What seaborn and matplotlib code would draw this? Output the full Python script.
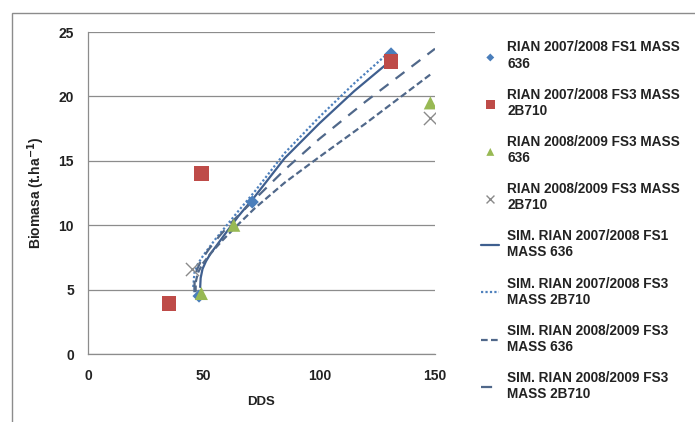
import numpy as np
import pandas as pd
import seaborn as sns
import matplotlib.pyplot as plt
from matplotlib.patches import Rectangle

# Observed data (DDS, biomass)
obs1_x = [48, 71, 131]
obs1_y = [4.5, 11.8, 23.3]
obs2_x = [35, 49, 131]
obs2_y = [3.9, 14.0, 22.7]
obs3_x = [49, 63, 148]
obs3_y = [4.7, 10.0, 19.5]
obs4_x = [45, 148]
obs4_y = [6.6, 18.3]

# Simulated curves
sim1_x = [48.5, 48.7, 49.5, 51, 53, 55.5, 60, 65, 72, 85, 100, 115, 131]
sim1_y = [5.2, 5.9, 6.6, 7.2, 7.8, 8.4, 9.5, 10.7, 12.2, 15.2, 17.9, 20.4, 22.8]
sim2_x = [45.5, 45.5, 46, 47.5, 50, 55, 60, 65, 72, 85, 100, 115, 130]
sim2_y = [4.8, 5.6, 6.3, 7.0, 7.7, 8.9, 10.0, 11.1, 12.6, 15.6, 18.4, 21.0, 23.4]
sim3_x = [46.5, 46.6, 47.5, 49.5, 53, 58, 64, 72, 85, 100, 120, 148]
sim3_y = [4.8, 5.6, 6.3, 7.0, 7.8, 8.8, 9.9, 11.3, 13.3, 15.3, 17.9, 21.7]
sim4_x = [46, 46.1, 47, 49, 52.5, 57, 63, 72, 85, 100, 120, 150]
sim4_y = [4.8, 5.7, 6.5, 7.3, 8.2, 9.2, 10.4, 12.0, 14.3, 16.7, 19.6, 23.7]

labels = ["RIAN 2007/2008 FS1 MASS\n636",
          "RIAN 2007/2008 FS3 MASS\n2B710",
          "RIAN 2008/2009 FS3 MASS\n636",
          "RIAN 2008/2009 FS3 MASS\n2B710",
          "SIM. RIAN 2007/2008 FS1\nMASS 636",
          "SIM. RIAN 2007/2008 FS3\nMASS 2B710",
          "SIM. RIAN 2008/2009 FS3\nMASS 636",
          "SIM. RIAN 2008/2009 FS3\nMASS 2B710"]

sns.set_style("white")
plt.rcParams['font.family'] = ['Liberation Sans', 'DejaVu Sans']

fig = plt.figure(figsize=(6.95, 4.22), dpi=100)
ax = fig.add_axes([88 / 695, 1 - 354 / 422, 347 / 695, 322 / 422])

# outer chart frame
fig.patches.append(Rectangle((12 / 695, -0.1), 1.2, 1 - 13 / 422 + 0.1,
                             transform=fig.transFigure, fill=False,
                             edgecolor="#8c8c8c", linewidth=1))

sns.scatterplot(x=obs1_x, y=obs1_y, ax=ax, marker="D", s=45, color="#4a7ebb",
                edgecolor="none", label=labels[0], zorder=4)
sns.scatterplot(x=obs2_x, y=obs2_y, ax=ax, marker="s", s=110, color="#be4b48",
                edgecolor="none", label=labels[1], zorder=4)
sns.scatterplot(x=obs3_x, y=obs3_y, ax=ax, marker="^", s=90, color="#98b954",
                edgecolor="none", label=labels[2], zorder=4)
sns.scatterplot(x=obs4_x, y=obs4_y, ax=ax, marker="x", s=90, color="#8a8a8a",
                linewidth=1, label=labels[3], zorder=4)

sns.lineplot(x=sim1_x, y=sim1_y, ax=ax, sort=False, color="#3f5f8f",
             linewidth=1.6, label=labels[4], zorder=3)
sns.lineplot(x=sim2_x, y=sim2_y, ax=ax, sort=False, color="#4f81bd",
             linewidth=1.6, linestyle=(0, (1, 1)), label=labels[5], zorder=3)
sns.lineplot(x=sim3_x, y=sim3_y, ax=ax, sort=False, color="#50688a",
             linewidth=1.6, linestyle=(0, (3, 1.5)), label=labels[6], zorder=3)
sns.lineplot(x=sim4_x, y=sim4_y, ax=ax, sort=False, color="#50688a",
             linewidth=1.6, linestyle=(0, (5, 4)), label=labels[7], zorder=3)

ax.set_xlim(0, 150)
ax.set_ylim(0, 25)
ax.set_xticks([0, 50, 100, 150])
ax.set_yticks([0, 5, 10, 15, 20, 25])
ax.yaxis.grid(True, color="#8c8c8c", linewidth=0.9)
ax.xaxis.grid(False)
for s in ["top", "right"]:
    ax.spines[s].set_visible(False)
for s in ["left", "bottom"]:
    ax.spines[s].set_color("#8c8c8c")
    ax.spines[s].set_linewidth(0.9)
ax.tick_params(axis="both", length=0, labelsize=10, labelcolor="#222222")
ax.tick_params(axis="x", pad=11)
ax.tick_params(axis="y", pad=10)
for t in ax.get_xticklabels() + ax.get_yticklabels():
    t.set_fontweight("bold")
ax.set_xlabel("DDS", fontsize=9.5, fontweight="bold", color="#222222", labelpad=9)
ax.set_ylabel("Biomasa (t.ha$^{\\mathbf{-1}}$)", fontsize=10, fontweight="bold",
              color="#222222", labelpad=8)

leg = ax.legend(loc="upper left", bbox_to_anchor=(476 / 695, 1 - 35 / 422),
                bbox_transform=fig.transFigure, frameon=False,
                prop={"size": 9.8, "weight": "bold"},
                handlelength=1.3, handletextpad=0.6, labelspacing=1.25,
                borderaxespad=0, markerscale=0.6)
for t in leg.get_texts():
    t.set_color("#222222")

fig.savefig("out.png", dpi=100)
